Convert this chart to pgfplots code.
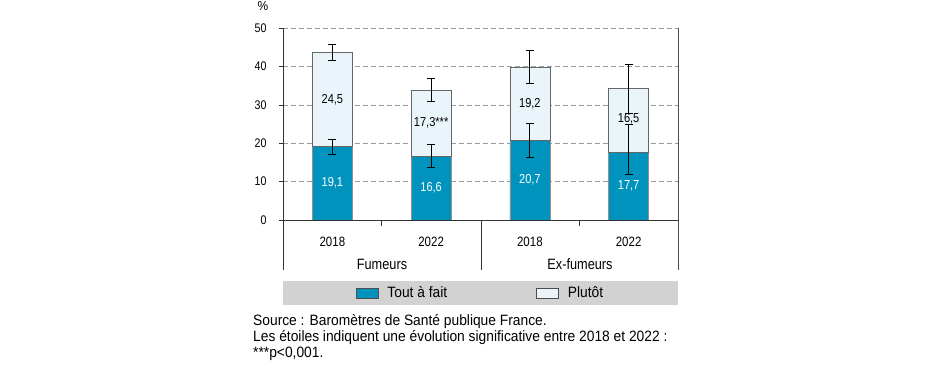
\documentclass[border=0pt]{standalone}
\usepackage{pgfplots}
\pgfplotsset{compat=1.18}
\usepackage{fontspec}
\setmainfont{Liberation Sans}[FakeStretch=0.92]
\newfontfamily\cond{Liberation Sans}[FakeStretch=0.85]
\definecolor{bleu}{HTML}{0093BE}
\definecolor{clair}{HTML}{EAF5FB}
\definecolor{legfond}{HTML}{D2D2D2}
\definecolor{bord}{HTML}{9A8F8A}
\begin{document}
\begin{tikzpicture}[x=1pt,y=1pt]
\useasboundingbox (0,0) rectangle (934,364);
\fill[legfond] (283,59) rectangle (678,83);
\begin{axis}[
  at={(283pt,144pt)}, anchor=south west,
  scale only axis, width=395pt, height=192pt,
  xmin=-0.5, xmax=3.5, ymin=0, ymax=50,
  axis x line*=bottom, axis y line*=left,
  axis line style={black!80, line width=0.8pt},
  tick align=outside,
  xtick={0,1,2,3}, xticklabels={2018,2022,2018,2022},
  major x tick style={draw=none},
  minor xtick={0.5,2.5}, minor tick length=6pt,
  minor x tick style={black!80, line width=0.6pt},
  ytick={0,10,...,50}, major tick length=4pt,
  major y tick style={black!80, line width=0.6pt},
  ymajorgrids, major grid style={gray!80, dash pattern=on 4.5pt off 3.5pt, line width=0.6pt},
  /pgf/number format/assume math mode=true,
  yticklabel style={font=\cond\fontsize{12.5}{14}\selectfont, xshift=-9pt},
  xticklabel style={font=\cond\fontsize{13.5}{15}\selectfont, yshift=-10pt},
  legend style={at={(0.5,-0.38)}, anchor=center, draw=none, fill=none,
    font=\fontsize{15}{17}\selectfont, legend columns=2,
    /tikz/every odd column/.append style={column sep=7pt},
    /tikz/every even column/.append style={column sep=87pt}},
]
\addplot[ybar, bar width=40pt, bar shift=0pt, stack plots=y,
  fill=bleu, draw=bord, line width=0.4pt,
  legend image code/.code={\draw[fill=bleu, draw=black!70, line width=0.6pt] (0pt,-5pt) rectangle (22pt,5pt);}]
  coordinates {(0,19.1) (1,16.6) (2,20.7) (3,17.7)};
\addlegendentry{Tout à fait}
\addplot[ybar, bar width=40pt, bar shift=0pt, stack plots=y,
  fill=clair, draw=black!60, line width=0.5pt,
  legend image code/.code={\draw[fill=clair, draw=black!70, line width=0.6pt] (0pt,-5pt) rectangle (22pt,5pt);}]
  coordinates {(0,24.5) (1,17.3) (2,19.2) (3,16.5)};
\addlegendentry{Plutôt}
% error bars
\addplot[forget plot, draw=none, mark=none,
  error bars/.cd, y dir=both, y explicit,
  error bar style={draw=black, line width=0.8pt},
  error mark=-, error mark options={draw=black, line width=0.8pt, mark size=4pt, rotate=90}]
  coordinates {(0,19.1) +- (0,2.0) (1,16.6) +- (0,3.0) (2,20.7) +- (0,4.4)};
\addplot[forget plot, draw=none, mark=none,
  error bars/.cd, y dir=both, y explicit,
  error bar style={draw=black, line width=0.8pt},
  error mark=-, error mark options={draw=black, line width=0.8pt, mark size=4pt, rotate=90}]
  coordinates {(3,17.7) += (0,7.2) -= (0,5.7)};
\addplot[forget plot, draw=none, mark=none,
  error bars/.cd, y dir=both, y explicit,
  error bar style={draw=black, line width=0.8pt},
  error mark=-, error mark options={draw=black, line width=0.8pt, mark size=4pt, rotate=90}]
  coordinates {(0,43.6) +- (0,2.1) (1,33.9) +- (0,3.0) (2,39.9) +- (0,4.2) (3,34.2) +- (0,6.4)};
% labels
\addplot[forget plot, draw=none, mark=none,
  point meta=explicit symbolic, nodes near coords,
  every node near coord/.append style={anchor=center, text=white, font=\cond\fontsize{13}{15}\selectfont}]
  coordinates {(0,9.6) [{19,1}] (1,8.3) [{16,6}] (2,10.4) [{20,7}] (3,8.9) [{17,7}]};
\addplot[forget plot, draw=none, mark=none,
  point meta=explicit symbolic, nodes near coords,
  every node near coord/.append style={anchor=center, text=black, font=\cond\fontsize{13}{15}\selectfont}]
  coordinates {(0,31.3) [{24,5}] (1,25.2) [{17,3***}] (2,30.2) [{19,2}] (3,26.4) [{16,5}]};
\end{axis}
\draw[black!80, line width=0.8pt] (283,144) -- (283,94);
\draw[black!80, line width=0.8pt] (481,144) -- (481,94);
\draw[black!70, line width=0.8pt] (678,336) -- (678,94);
\node[font=\cond\fontsize{15}{17}\selectfont] at (382,100) {Fumeurs};
\node[font=\cond\fontsize{15}{17}\selectfont] at (580,100) {Ex-fumeurs};
\node[font=\fontsize{13}{15}\selectfont] at (263,358) {\%};
\node[anchor=north west, align=left, inner sep=0pt, font=\fontsize{15}{16}\selectfont] at (253,50)
  {Source : Baromètres de Santé publique France.\\
   Les étoiles indiquent une évolution significative entre 2018 et 2022 :\\
   ***p<0,001.};
\end{tikzpicture}
\end{document}
